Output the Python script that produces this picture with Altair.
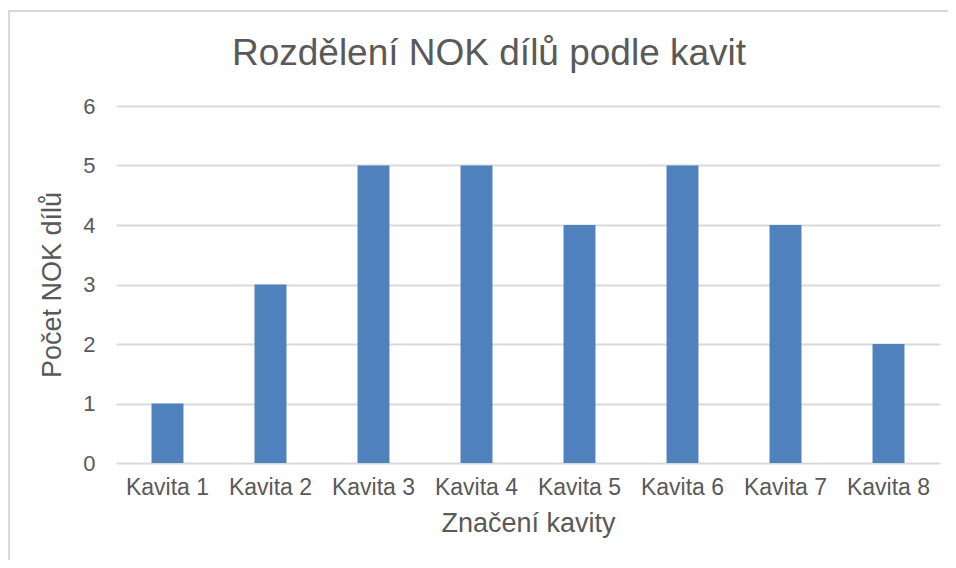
import altair as alt
import pandas as pd

title_text = "Rozdělení NOK dílů podle kavit"
categories = ["Kavita 1", "Kavita 2", "Kavita 3", "Kavita 4", "Kavita 5", "Kavita 6", "Kavita 7", "Kavita 8"]
values = [1, 3, 5, 5, 4, 5, 4, 2]

df = pd.DataFrame({"kavita": categories, "pocet": values})
one = pd.DataFrame({"t": [title_text]})

FONT = "Liberation Sans"
GREY = "#595959"

bars = alt.Chart(df).mark_bar(color="#4F81BD").encode(
    x=alt.X(
        "kavita:N",
        sort=categories,
        title="Značení kavity",
        scale=alt.Scale(paddingInner=0.69, paddingOuter=0.345),
        axis=alt.Axis(
            labelAngle=0, ticks=False, domain=False, labelFontSize=23,
            labelPadding=13, titleFontSize=27, titlePadding=11,
        ),
    ),
    y=alt.Y(
        "pocet:Q",
        title="Počet NOK dílů",
        scale=alt.Scale(domain=[0, 6]),
        axis=alt.Axis(
            values=[0, 1, 2, 3, 4, 5, 6], ticks=False, domain=False,
            labelFontSize=22, labelPadding=21, titleFontSize=27, titlePadding=16,
            gridColor="#d9d9d9", gridWidth=2,
        ),
    ),
)

border = alt.Chart(one).mark_rect(filled=False, stroke="#d9d9d9", strokeWidth=2).encode(
    x=alt.value(-107), x2=alt.value(1000), y=alt.value(-95), y2=alt.value(600)
)

title = alt.Chart(one).mark_text(
    font=FONT, fontSize=37, color=GREY, align="center", baseline="alphabetic"
).encode(text="t:N", x=alt.value(373), y=alt.value(-41))

chart = alt.layer(border, bars, title).properties(
    width=824,
    height=357,
    autosize=alt.AutoSizeParams(type="none"),
    padding={"left": 108, "top": 98, "right": 8, "bottom": 97},
).configure_axis(
    labelFont=FONT, titleFont=FONT, labelColor=GREY, titleColor=GREY,
    titleFontWeight="normal",
).configure_view(stroke=None)

chart.save("out.html", embed_options={"renderer": "svg", "actions": False})
